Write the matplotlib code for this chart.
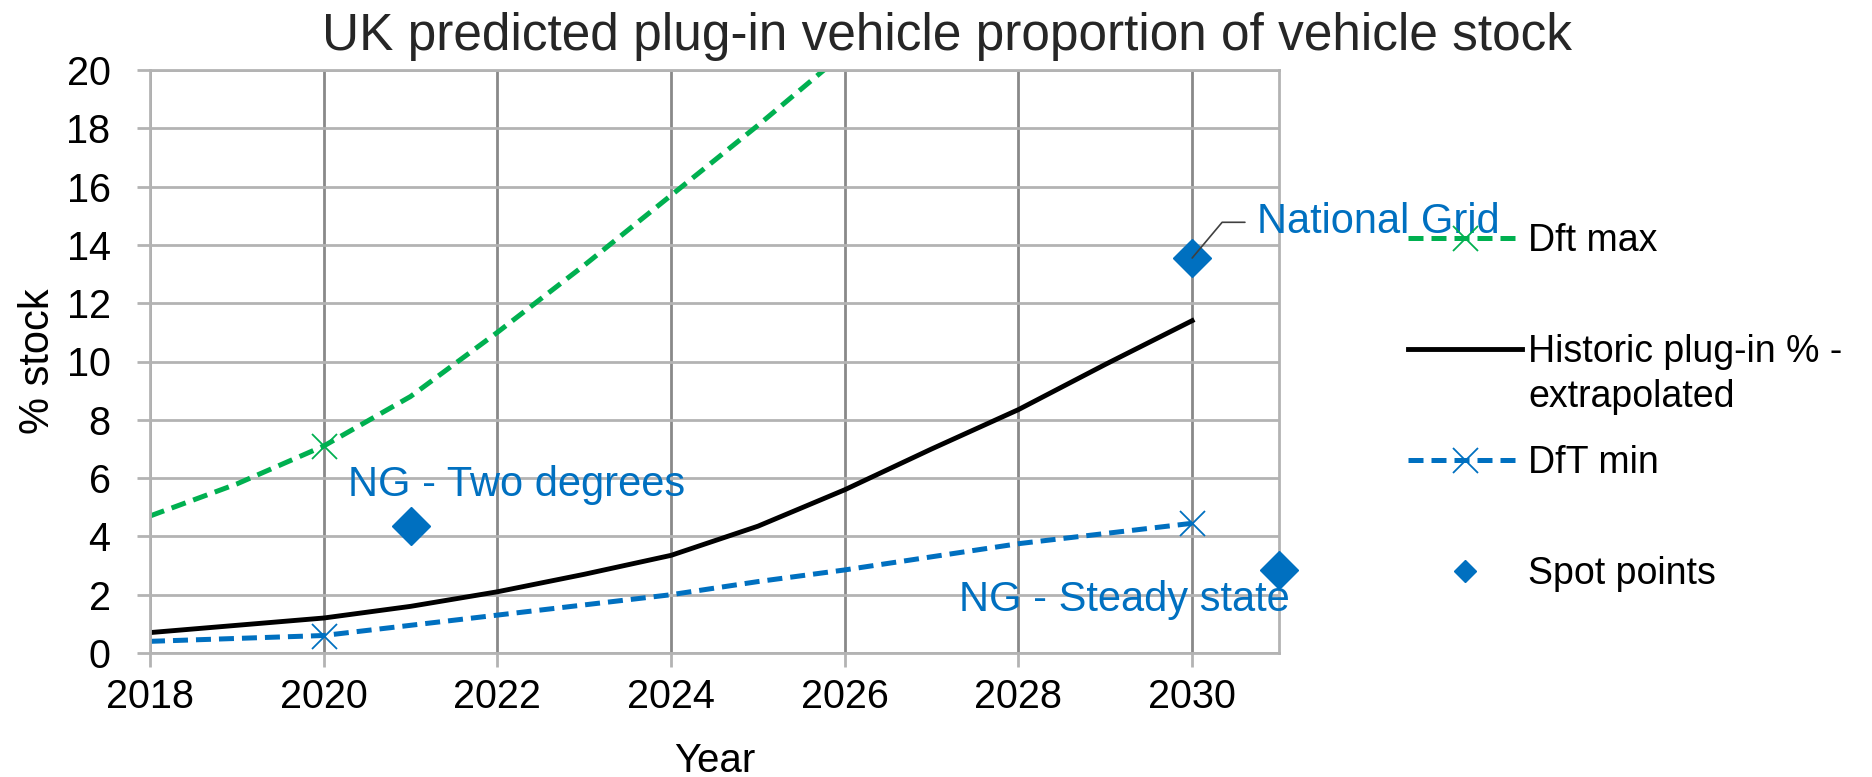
import matplotlib.pyplot as plt

plt.rcParams['font.family'] = ['Liberation Sans', 'DejaVu Sans']

# values
years = [2018, 2019, 2020, 2021, 2022, 2023, 2024, 2025, 2026, 2027, 2028, 2029, 2030]
dft_max_years = [2018, 2019, 2020, 2021, 2022, 2023, 2024, 2025, 2026]
dft_max = [4.7, 5.8, 7.1, 8.8, 11.0, 13.3, 15.7, 18.1, 20.6]
historic = [0.7, 0.95, 1.2, 1.6, 2.1, 2.7, 3.35, 4.35, 5.6, 7.0, 8.35, 9.9, 11.4]
dft_min = [0.4, 0.5, 0.6, 0.95, 1.3, 1.65, 2.0, 2.45, 2.85, 3.3, 3.75, 4.1, 4.45]

spot_years = [2021, 2030, 2031]
spot_values = [4.35, 13.55, 2.85]
spot_labels = ['NG - Two degrees', 'National Grid', 'NG - Steady state']

x_ticks = [2018, 2020, 2022, 2024, 2026, 2028, 2030]
y_ticks = [0, 2, 4, 6, 8, 10, 12, 14, 16, 18, 20]

green = '#00b050'
blue = '#0070c0'
light_grey = '#b3b3b3'
dark_grey = '#898989'

fig = plt.figure(figsize=(18.72, 7.77), dpi=100)
ax = fig.add_axes([150 / 1872, 1 - 653 / 777, 1129 / 1872, 583 / 777])

ax.plot(dft_max_years, dft_max, color=green, lw=3.6, dashes=(3, 1.6),
        marker='x', markevery=[2], ms=18, mew=1.3, label='Dft max')
ax.plot(years, historic, color='black', lw=3.5, label='Historic plug-in % -')
ax.plot(years, dft_min, color=blue, lw=3.6, dashes=(3, 1.6),
        marker='x', markevery=[2, 12], ms=18, mew=1.3, label='DfT min')
ax.plot(spot_years, spot_values, linestyle='none', marker='D', ms=19, mew=1,
        color=blue, label='Spot points', clip_on=False, zorder=3)

# data labels (offsets in points from each diamond)
offsets = [(-44.9, 22.1), (47.0, 17.8), (7.4, -29.3)]
aligns = ['left', 'left', 'right']
for i in range(3):
    kw = {}
    if spot_labels[i] == 'National Grid':
        kw['arrowprops'] = dict(arrowstyle='-', color='#404040', lw=1.2,
                                connectionstyle='angle,angleA=180,angleB=50,rad=0',
                                relpos=(0, 0.5), shrinkA=7, shrinkB=0)
    ax.annotate(spot_labels[i], xy=(spot_years[i], spot_values[i]),
                xytext=offsets[i], textcoords='offset points',
                ha=aligns[i], va='baseline', fontsize=30, color=blue,
                annotation_clip=False, zorder=4, **kw)

ax.set_xlim(2018, 2031)
ax.set_ylim(0, 20)
ax.set_xticks(x_ticks)
ax.set_yticks(y_ticks)
ax.set_axisbelow(True)
ax.grid(axis='x', color=dark_grey, lw=2)
ax.grid(axis='y', color=light_grey, lw=2)
for s in ax.spines.values():
    s.set_color(light_grey)
    s.set_linewidth(2)
ax.tick_params(axis='x', length=10, width=2, color=light_grey, pad=8, labelsize=28.5)
ax.tick_params(axis='y', length=9.4, width=2, color=light_grey, pad=19, labelsize=28.5)

ax.set_xlabel('Year', fontsize=29, labelpad=19)
ax.set_ylabel('% stock', fontsize=30, labelpad=6)

fig.text(947 / 1872, 1 - 50 / 777, 'UK predicted plug-in vehicle proportion of vehicle stock',
         ha='center', va='baseline', fontsize=37, color='#262626')

leg = ax.legend(loc='upper left', bbox_to_anchor=(1408 / 1872, 1 - 223 / 777),
                bbox_transform=fig.transFigure, frameon=False, fontsize=27,
                handlelength=3.04, handletextpad=0.16, labelspacing=2.0,
                borderpad=0, borderaxespad=0)
leg.legend_handles[3].set_markersize(11)

# second line of the historic label, kept aligned under the legend text
ax.annotate('extrapolated', xy=(0, 0), xycoords=leg.get_texts()[1],
            xytext=(0, -26.6), textcoords='offset points',
            ha='left', va='baseline', fontsize=27, zorder=6,
            annotation_clip=False)

fig.savefig('out.png', dpi=100)
